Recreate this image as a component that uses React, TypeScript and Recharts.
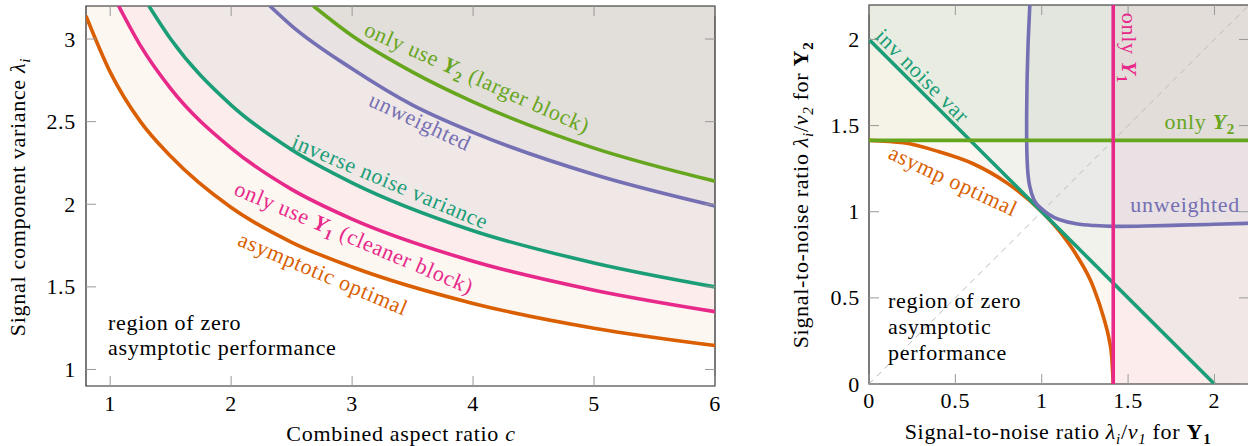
import React from "react";
import { ComposedChart, Line, Area, XAxis, YAxis, ReferenceArea } from "recharts";

const ORANGE = "#d95f02";
const PINK = "#e7298a";
const TEAL = "#1b9e77";
const PURPLE = "#7570b3";
const GREEN = "#66a61e";
const TICK = "#999";
const FONT = "'Liberation Serif', 'DejaVu Serif', serif";
const TXT = { fontFamily: FONT, fontSize: 22, letterSpacing: 0.7 };

// left panel: phase transition vs combined aspect ratio c
const optimalC = [0.8, 1, 1.25, 1.5, 2, 2.5, 3, 4, 5, 6];
const optimalL = [3.14, 2.8, 2.5, 2.29, 1.98, 1.77, 1.62, 1.4, 1.25, 1.145];
const onlyY1C = [1.07, 1.25, 1.5, 2, 2.5, 3, 4, 5, 6];
const onlyY1L = [3.2, 2.96, 2.7, 2.34, 2.09, 1.91, 1.655, 1.48, 1.35];
const invNoiseC = [1.32, 1.5, 2, 2.5, 3, 4, 5, 6];
const invNoiseL = [3.2, 3.0, 2.6, 2.33, 2.13, 1.84, 1.645, 1.5];
const unweightedC = [2.32, 2.5, 3, 3.5, 4, 5, 6];
const unweightedL = [3.2, 3.08, 2.82, 2.6, 2.435, 2.18, 1.99];
const onlyY2C = [2.68, 3, 3.5, 4, 5, 6];
const onlyY2L = [3.2, 3.02, 2.8, 2.62, 2.34, 2.14];
const leftXTicks = [1, 2, 3, 4, 5, 6];
const leftYTicks = [1, 1.5, 2, 2.5, 3];

// right panel: snr for Y1 (x) vs snr for Y2 (y)
const arcX = [0, 0.2, 0.4, 0.6, 0.8, 1.0, 1.1, 1.2, 1.3, 1.36, 1.39, 1.405, 1.414];
const arcY = [1.414, 1.4, 1.35, 1.28, 1.166, 1.0, 0.89, 0.75, 0.56, 0.38, 0.26, 0.16, 0];
const invX = [0, 2];
const invY = [2, 0];
const uwX = [0.931, 0.922, 0.916, 0.913, 0.913, 0.918, 0.93, 0.955, 0.99, 1.04, 1.1, 1.2, 1.3, 1.414, 1.6, 1.8, 2.0, 2.2];
const uwY = [2.2, 2.0, 1.8, 1.6, 1.4, 1.25, 1.15, 1.07, 1.025, 0.985, 0.955, 0.93, 0.92, 0.915, 0.917, 0.922, 0.927, 0.933];
const onlyY1X = [1.414, 1.414];
const onlyY1Y = [0, 2.2];
const onlyY2X = [0, 2.2];
const onlyY2Y = [1.414, 1.414];
const diagX = [0, 2.2];
const diagY = [0, 2.2];
const rightTicks = [0, 0.5, 1, 1.5, 2];

const zip = (xs: number[], ys: number[]) => xs.map((x, i) => ({ x, y: ys[i] }));

type Frame = { left: number; right: number; top: number; bottom: number };

const xTick = (f: Frame, labelY: number) => (props: any) => {
  const { x, payload } = props;
  return (
    <g>
      <line x1={x} x2={x} y1={f.bottom} y2={f.bottom - 10} stroke={TICK} />
      <line x1={x} x2={x} y1={f.top} y2={f.top + 10} stroke={TICK} />
      <text x={x} y={labelY} textAnchor="middle" style={TXT} fill="#000">
        {String(payload.value)}
      </text>
    </g>
  );
};

const yTick = (f: Frame, labelX: number) => (props: any) => {
  const { y, payload } = props;
  return (
    <g>
      <line x1={f.left} x2={f.left + 10} y1={y} y2={y} stroke={TICK} />
      <line x1={f.right - 10} x2={f.right} y1={y} y2={y} stroke={TICK} />
      <text x={labelX} y={y} dy={7.5} textAnchor="end" style={TXT} fill="#000">
        {String(payload.value)}
      </text>
    </g>
  );
};

const fillProps = { stroke: "none", fillOpacity: 0.05, dot: false, activeDot: false, isAnimationActive: false } as const;
const lineProps = { dot: false, activeDot: false, strokeWidth: 3.6, isAnimationActive: false } as const;

function LeftChart() {
  const f = { left: 86, right: 715, top: 6, bottom: 386 };
  const series = [
    { d: zip(optimalC, optimalL), c: ORANGE },
    { d: zip(onlyY1C, onlyY1L), c: PINK },
    { d: zip(invNoiseC, invNoiseL), c: TEAL },
    { d: zip(unweightedC, unweightedL), c: PURPLE },
    { d: zip(onlyY2C, onlyY2L), c: GREEN },
  ];
  return (
    <ComposedChart width={730} height={446} margin={{ top: 6, right: 15, bottom: 0, left: 0 }}>
      <XAxis type="number" dataKey="x" domain={[0.8, 6]} ticks={leftXTicks} interval={0} allowDataOverflow
        height={60} axisLine={false} tickLine={false} tick={xTick(f, 411)} />
      <YAxis type="number" domain={[0.9, 3.2]} ticks={leftYTicks} interval={0} allowDataOverflow
        width={86} axisLine={false} tickLine={false} tick={yTick(f, 76)} />
      {series.map((s, i) => (
        <Area key={"f" + i} data={s.d} dataKey="y" type="monotone" baseValue={3.2} fill={s.c} {...fillProps} />
      ))}
      {series.map((s, i) => (
        <Line key={"l" + i} data={s.d} dataKey="y" type="monotone" stroke={s.c} {...lineProps} />
      ))}
      <ReferenceArea x1={0.8} x2={6} y1={0.9} y2={3.2} fill="none" stroke="#222" strokeWidth={1.2} />
    </ComposedChart>
  );
}

function RightChart() {
  const f = { left: 89, right: 469, top: 5, bottom: 384 };
  const arc = zip(arcX, arcY);
  return (
    <ComposedChart width={469} height={446} margin={{ top: 5, right: 0, bottom: 0, left: 0 }}>
      <XAxis type="number" dataKey="x" domain={[0, 2.2]} ticks={rightTicks} interval={0} allowDataOverflow
        height={62} axisLine={false} tickLine={false} tick={xTick(f, 408)} />
      <YAxis type="number" domain={[0, 2.2]} ticks={rightTicks} interval={0} allowDataOverflow
        width={89} axisLine={false} tickLine={false} tick={yTick(f, 80)} />
      <Area data={[...arc, { x: 2.2, y: 0 }]} dataKey="y" type="monotone" baseValue={2.2} fill={ORANGE} {...fillProps} />
      <Area data={[...zip(invX, invY), { x: 2.2, y: 0 }]} dataKey="y" type="linear" baseValue={2.2} fill={TEAL} {...fillProps} />
      <Area data={zip([onlyY1X[0], 2.2], [0, 0])} dataKey="y" type="linear" baseValue={2.2} fill={PINK} {...fillProps} />
      <Area data={zip(onlyY2X, onlyY2Y)} dataKey="y" type="linear" baseValue={2.2} fill={GREEN} {...fillProps} />
      <Area data={zip(uwX, uwY)} dataKey="y" type="natural" baseValue={2.2} fill={PURPLE} {...fillProps} />
      <Line data={zip(diagX, diagY)} dataKey="y" type="linear" stroke="#bbb" strokeWidth={1} strokeDasharray="6 5"
        dot={false} activeDot={false} isAnimationActive={false} />
      <Line data={arc} dataKey="y" type="monotone" stroke={ORANGE} {...lineProps} />
      <Line data={zip(invX, invY)} dataKey="y" type="linear" stroke={TEAL} {...lineProps} />
      <Line data={zip(uwX, uwY)} dataKey="y" type="natural" stroke={PURPLE} {...lineProps} />
      <Line data={zip(onlyY2X, onlyY2Y)} dataKey="y" type="linear" stroke={GREEN} {...lineProps} />
      <Line data={zip(onlyY1X, onlyY1Y)} dataKey="y" type="linear" stroke={PINK} {...lineProps} />
      <ReferenceArea x1={0} x2={2.2} y1={0} y2={2.2} fill="none" stroke="#222" strokeWidth={1.2} />
    </ComposedChart>
  );
}

const Tag = ({ cx, cy, angle, color, children }: any) => (
  <text transform={`translate(${cx},${cy}) rotate(${angle})`} x={0} y={7} textAnchor="middle" fill={color} style={TXT}>
    {children}
  </text>
);

// base symbol with a lowered subscript; "rest" is set back on the main baseline
const Sub = ({ base, sub, bold, italic = true, rest }: any) => (
  <>
    <tspan fontStyle={italic ? "italic" : "normal"} fontWeight={bold ? "bold" : "normal"}>{base}</tspan>
    <tspan fontSize={15} dy={5} fontWeight={bold ? "bold" : "normal"} fontStyle={bold || !italic ? "normal" : "italic"}>{sub}</tspan>
    {rest !== undefined && <tspan dy={-5}>{rest}</tspan>}
  </>
);

function Overlay() {
  return (
    <svg width={1248} height={446} style={{ position: "absolute", left: 0, top: 0, pointerEvents: "none", ...TXT }}>
      {/* left panel annotations */}
      <Tag cx={477} cy={78} angle={24} color={GREEN}>only use <Sub base="Y" sub="2" bold rest=" (larger block)" /></Tag>
      <Tag cx={420} cy={122} angle={25} color={PURPLE}>unweighted</Tag>
      <Tag cx={390} cy={182} angle={23} color={TEAL}>inverse noise variance</Tag>
      <Tag cx={354} cy={238} angle={23} color={PINK}>only use <Sub base="Y" sub="1" bold rest=" (cleaner block)" /></Tag>
      <Tag cx={323} cy={274} angle={23} color={ORANGE}>asymptotic optimal</Tag>
      <text x={108} y={330} style={TXT}>region of zero</text>
      <text x={108} y={355} style={TXT}>asymptotic performance</text>
      <text transform="translate(25,197) rotate(-90)" textAnchor="middle" style={TXT}>
        Signal component variance <Sub base="λ" sub="i" />
      </text>
      <text x={401} y={441} textAnchor="middle" style={TXT}>
        Combined aspect ratio <tspan fontStyle="italic">c</tspan>
      </text>

      {/* right panel annotations */}
      <Tag cx={922} cy={76} angle={45} color={TEAL}>inv noise var</Tag>
      <Tag cx={953} cy={181} angle={25} color={ORANGE}>asymp optimal</Tag>
      <Tag cx={1129} cy={48} angle={90} color={PINK}>only <Sub base="Y" sub="1" bold /></Tag>
      <text x={1235} y={129} textAnchor="end" fill={GREEN} style={TXT}>only <Sub base="Y" sub="2" bold /></text>
      <text x={1240} y={212} textAnchor="end" fill={PURPLE} style={TXT}>unweighted</text>
      <text x={888} y={308} style={TXT}>region of zero</text>
      <text x={888} y={334} style={TXT}>asymptotic</text>
      <text x={888} y={360} style={TXT}>performance</text>
      <text transform="translate(808,195) rotate(-90)" textAnchor="middle" style={TXT}>
        Signal-to-noise ratio <Sub base="λ" sub="i" rest="/" /><Sub base="v" sub="2" italic rest=" for " /><Sub base="Y" sub="2" bold italic={false} />
      </text>
      <text x={1058} y={439} textAnchor="middle" style={TXT}>
        Signal-to-noise ratio <Sub base="λ" sub="i" rest="/" /><Sub base="v" sub="1" rest=" for " /><Sub base="Y" sub="1" bold italic={false} />
      </text>
    </svg>
  );
}

export default function App() {
  return (
    <div style={{ position: "absolute", left: 0, top: 0, width: 1248, height: 446, overflow: "hidden", background: "#fff" }}>
      <div style={{ position: "absolute", left: 0, top: 0 }}>
        <LeftChart />
      </div>
      <div style={{ position: "absolute", left: 780, top: 0 }}>
        <RightChart />
      </div>
      <Overlay />
    </div>
  );
}
